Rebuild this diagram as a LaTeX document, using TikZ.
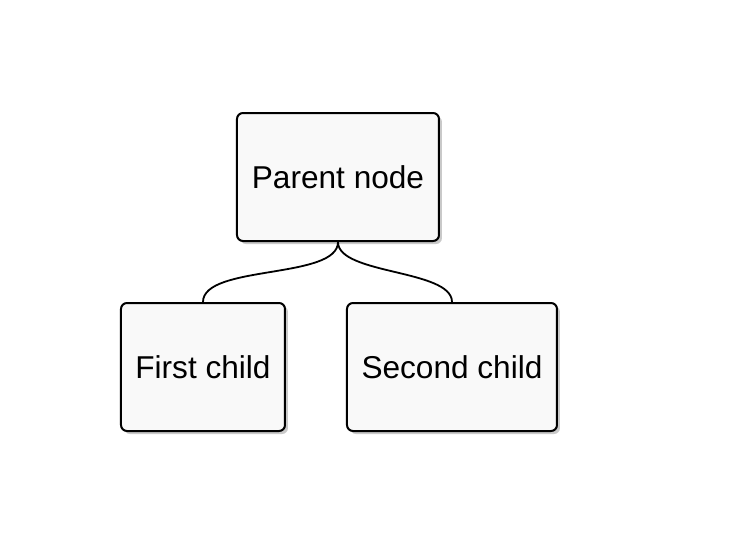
\documentclass[tikz,border=0pt]{standalone}
\usepackage{fontspec}
\setmainfont{Liberation Sans}
\usepackage{xcolor}
\usepackage{tikz}
\usetikzlibrary{shadows,positioning}
\definecolor{boxfill}{RGB}{249, 249, 249}

\begin{document}
\begin{tikzpicture}[x=0.5pt,y=-0.5pt,box/.style={draw,rounded corners=3pt,line width=1pt,fill=boxfill,align=center,minimum height=64pt,font=\fontsize{15.8}{19}\selectfont,drop shadow={shadow xshift=1.5pt,shadow yshift=-1.5pt,opacity=0.35,fill=black!60}},link/.style={line width=0.9pt,out=-90,in=90,looseness=0.65}]
\useasboundingbox[fill=white](0,0) rectangle (736,558);
\node[box,minimum width=101pt](parent) at (338,177){Parent node};
\node[box,minimum width=82pt](first) at (203,367){First child}; \node[box,minimum width=105pt](second) at (452,367){Second child};
\draw[link](parent.south) to (first.north); \draw[link](parent.south) to (second.north);
\end{tikzpicture}
\end{document}
